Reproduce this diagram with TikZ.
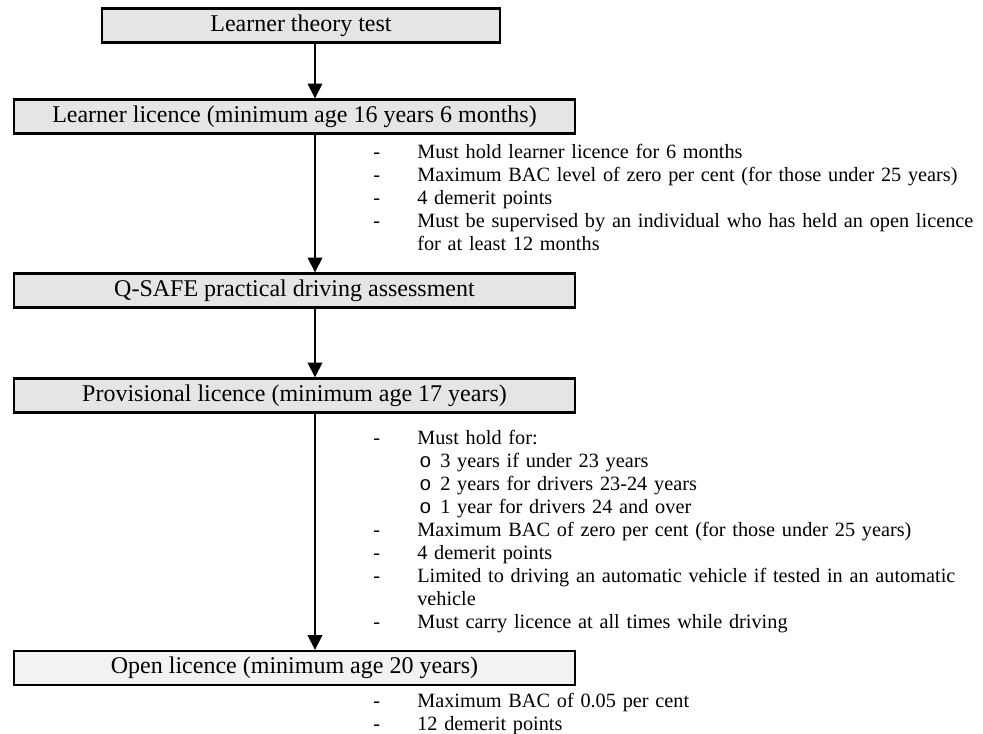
\documentclass[tikz,border=0pt]{standalone}
\usepackage{fontspec}
\setmainfont{Liberation Serif}
\newfontfamily\subbulletfont{Liberation Mono}
\usetikzlibrary{arrows.meta, positioning}

% dash list and the "o" list under it
\newenvironment{reqlist}{%
  \begin{list}{-}{%
    \setlength{\leftmargin}{33pt}\setlength{\labelwidth}{33pt}%
    \setlength{\labelsep}{0pt}\setlength{\itemsep}{0pt}%
    \setlength{\parsep}{0pt}\setlength{\topsep}{0pt}%
    \setlength{\partopsep}{0pt}\setlength{\itemindent}{0pt}%
    \renewcommand{\makelabel}[1]{##1\hfil}}}%
  {\end{list}}
\newenvironment{subreqlist}{%
  \begin{list}{\subbulletfont o}{%
    \setlength{\leftmargin}{17.25pt}\setlength{\labelwidth}{15.75pt}%
    \setlength{\labelsep}{0pt}\setlength{\itemsep}{0pt}%
    \setlength{\parsep}{0pt}\setlength{\topsep}{0pt}%
    \setlength{\partopsep}{0pt}\setlength{\itemindent}{0pt}%
    \renewcommand{\makelabel}[1]{##1\hfil}}}%
  {\end{list}}

\begin{document}
\begin{tikzpicture}[x=0.75pt, y=-0.75pt]

  \tikzset{stage/.style={draw, line width=1.8pt, fill=black!10, inner sep=0pt,
      minimum width=420.75pt, minimum height=25.5pt,
      font=\fontsize{18pt}{20pt}\selectfont}}
  \tikzset{firststage/.style={stage, minimum width=298.5pt}}
  \tikzset{laststage/.style={stage, fill=black!5}}
  \tikzset{rules/.style={anchor=north west, inner sep=0pt, text width=480pt,
      align=left, font=\fontsize{15.2pt}{17.25pt}\selectfont}}
  \tikzset{flow/.style={line width=1.2pt, -{Triangle[width=11pt, length=11pt]}}}

  \useasboundingbox (0, 0) rectangle (983, 734);

  % stages
  \node[firststage] at (301, 25.5) (theory) {Learner theory test};
  \node[stage] at (294.5, 116.5) (learner) {Learner licence (minimum age 16 years 6 months)};
  \node[stage] at (294.5, 290.5) (qsafe) {Q-SAFE practical driving assessment};
  \node[stage] at (294.5, 395.5) (prov) {Provisional licence (minimum age 17 years)};
  \node[laststage] at (294.5, 668) (open) {Open licence (minimum age 20 years)};

  % conditions
  \node[rules] at (373, 135) (learnerrules) {%
    \begin{reqlist}
      \item Must hold learner licence for 6 months
      \item Maximum BAC level of zero per cent (for those under 25 years)
      \item 4 demerit points
      \item Must be supervised by an individual who has held an open licence\newline
            for at least 12 months
    \end{reqlist}};
  \node[rules] at (373, 421) (provrules) {%
    \begin{reqlist}
      \item Must hold for:
        \begin{subreqlist}
          \item 3 years if under 23 years
          \item 2 years for drivers 23-24 years
          \item 1 year for drivers 24 and over
        \end{subreqlist}
      \item Maximum BAC of zero per cent (for those under 25 years)
      \item 4 demerit points
      \item Limited to driving an automatic vehicle if tested in an automatic\newline
            vehicle
      \item Must carry licence at all times while driving
    \end{reqlist}};
  \node[rules] at (373, 684) (openrules) {%
    \begin{reqlist}
      \item Maximum BAC of 0.05 per cent
      \item 12 demerit points
    \end{reqlist}};

  % arrows
  \coordinate (spine) at (315, 0);
  \draw[flow] (theory.south -| spine) -- (learner.north -| spine);
  \draw[flow] (learner.south -| spine) -- (qsafe.north -| spine);
  \draw[flow] (qsafe.south -| spine) -- (prov.north -| spine);
  \draw[flow] (prov.south -| spine) -- (open.north -| spine);
\end{tikzpicture}
\end{document}
